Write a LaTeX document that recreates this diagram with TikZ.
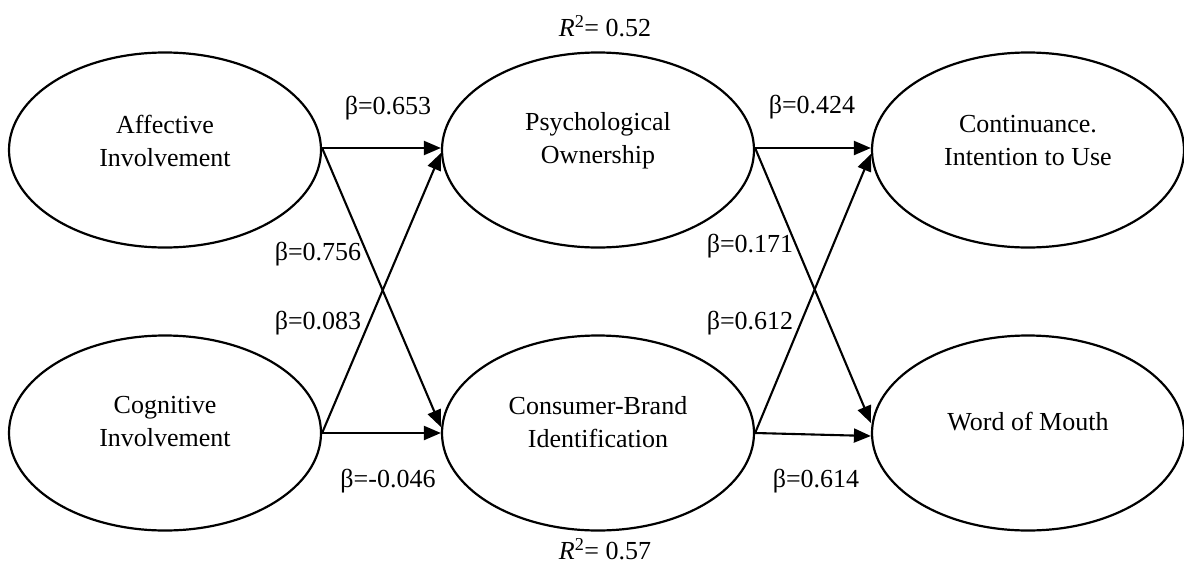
\documentclass[tikz,border=0pt]{standalone}
\usepackage{fontspec}
\setmainfont{Liberation Serif}
\usetikzlibrary{shapes.geometric,arrows.meta}
\begin{document}
\begin{tikzpicture}[x=1pt,y=-1pt,
  ell/.style={draw,ellipse,line width=2.2pt,minimum width=312pt,minimum height=195pt,inner sep=0pt},
  txt/.style={align=center,font=\fontsize{26}{33}\selectfont,inner sep=0pt},
  lab/.style={font=\fontsize{26}{33}\selectfont,inner sep=0pt},
  arr/.style={line width=2.1pt,-{Triangle[length=17pt,width=14pt]}}]
\useasboundingbox (0,0) rectangle (1184,565);
\node[ell] (ai) at (165,150) {};
\node[ell] (ci) at (165,433) {};
\node[ell] (po) at (598,150) {};
\node[ell] (cb) at (598,433) {};
\node[ell] (ct) at (1028,150) {};
\node[ell] (wm) at (1028,433) {};
\node[txt] (ait) at (165,141) {Affective\\Involvement};
\node[txt] (cit) at (165,422) {Cognitive\\Involvement};
\node[txt] (pot) at (598,141) {Psychological\\Ownership};
\node[txt] (cbt) at (598,422) {Consumer-Brand\\Identification};
\node[txt] (ctt) at (1028,141) {Continuance.\\Intention to Use};
\node[txt] (wmt) at (1028,422) {Word of Mouth};
\draw[arr] ([yshift=2pt]ai.east) -- ([yshift=2pt]po.west);
\draw[arr] ([yshift=2pt]ai.east) -- ([yshift=6pt]cb.west);
\draw[arr] (ci.east) -- ([yshift=-3pt]po.west);
\draw[arr] (ci.east) -- (cb.west);
\draw[arr] ([yshift=2pt]po.east) -- ([yshift=2pt]ct.west);
\draw[arr] ([yshift=2pt]po.east) -- ([yshift=10pt]wm.west);
\draw[arr] (cb.east) -- ([yshift=-4pt]ct.west);
\draw[arr] (cb.east) -- ([yshift=-3pt]wm.west);
\node[lab] (l1) at (388,108) {β=0.653};
\node[lab] (l2) at (318,254) {β=0.756};
\node[lab] (l3) at (318,323) {β=0.083};
\node[lab] (l4) at (388,481) {β=-0.046};
\node[lab] (l5) at (812,107) {β=0.424};
\node[lab] (l6) at (750,246) {β=0.171};
\node[lab] (l7) at (750,323) {β=0.612};
\node[lab] (l8) at (816,481) {β=0.614};
\node[lab] (r1) at (605,26) {\textit{R}\textsuperscript{2}= 0.52};
\node[lab] (r2) at (605,549) {\textit{R}\textsuperscript{2}= 0.57};
\end{tikzpicture}
\end{document}
